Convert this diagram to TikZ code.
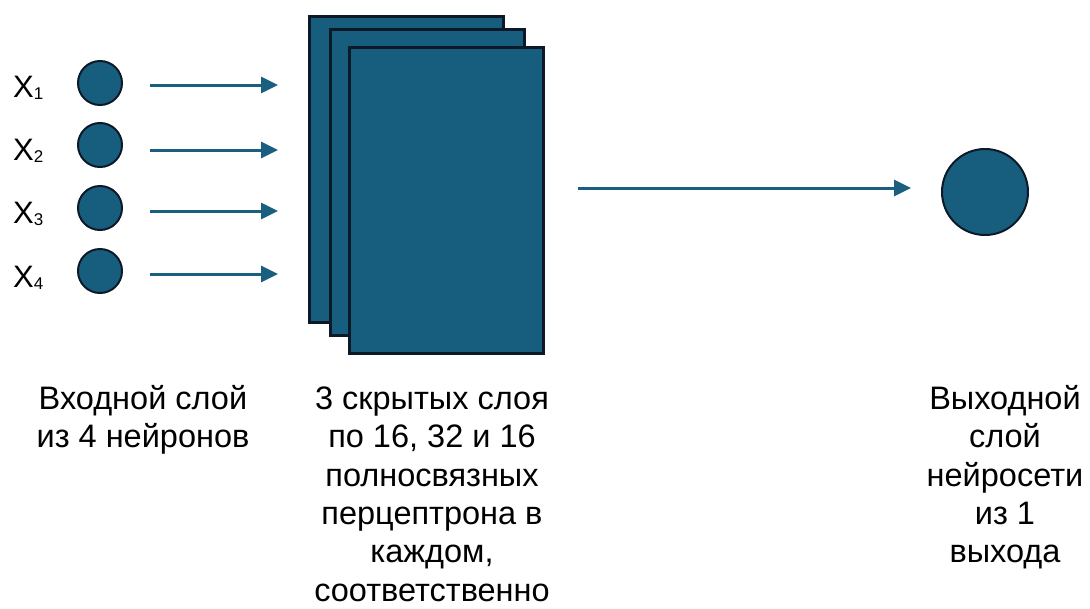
\documentclass[tikz,border=0pt]{standalone}
\usepackage{fontspec}
\setmainfont{Liberation Sans}
\usetikzlibrary{arrows.meta}
\definecolor{nblue}{HTML}{175E7E}
\definecolor{ablue}{HTML}{1A5F80}
\definecolor{nedge}{HTML}{0C1A28}
\tikzset{
  neuron/.style={circle, fill=nblue, draw=nedge, line width=2pt, inner sep=0pt},
  layerbox/.style={rectangle, fill=nblue, draw=nedge, line width=2.5pt, inner sep=0pt, minimum width=194pt, minimum height=306pt, anchor=north west},
  flow/.style={draw=ablue, line width=3pt, -{Triangle[length=17pt,width=16pt]}},
  xlabel/.style={anchor=base west, inner sep=0pt, font={\fontsize{31}{31}\selectfont}},
  caption/.style={anchor=north, inner sep=0pt, align=center, font={\fontsize{32.5}{38.4}\selectfont}}
}
\newcommand{\xsub}[1]{X\raisebox{-2pt}{\fontsize{17}{17}\selectfont #1}}
\newcommand{\capstrut}{\rule{0pt}{25pt}}
\begin{document}
\begin{tikzpicture}[x=1pt,y=-1pt]
\useasboundingbox (0,0) rectangle (1090,608);
% input neurons
\node[neuron, minimum size=44pt] (i1) at (100,83) {};
\node[neuron, minimum size=44pt] (i2) at (100,145) {};
\node[neuron, minimum size=44pt] (i3) at (100,208) {};
\node[neuron, minimum size=44pt] (i4) at (100,271) {};
\node[xlabel] (x1) at (13,97) {\xsub{1}};
\node[xlabel] (x2) at (13,160) {\xsub{2}};
\node[xlabel] (x3) at (13,223) {\xsub{3}};
\node[xlabel] (x4) at (13,287) {\xsub{4}};
% hidden layers
\node[layerbox] (h1) at (308,15) {};
\node[layerbox] (h2) at (329,28) {};
\node[layerbox] (h3) at (348,46) {};
% arrows into hidden layers
\coordinate (s1) at (150,85); \coordinate (e1) at (278,85);
\coordinate (s2) at (150,150); \coordinate (e2) at (278,150);
\coordinate (s3) at (150,211); \coordinate (e3) at (278,211);
\coordinate (s4) at (150,274); \coordinate (e4) at (278,274);
\draw[flow] (s1) -- (e1);
\draw[flow] (s2) -- (e2);
\draw[flow] (s3) -- (e3);
\draw[flow] (s4) -- (e4);
% output neuron
\node[neuron, minimum size=86pt] (o) at (985,192) {};
\coordinate (s5) at (578,188); \coordinate (e5) at (911,188);
\draw[flow] (s5) -- (e5);
% captions
\node[caption] (c1) at (143,384) {\capstrut Входной слой\\из 4 нейронов};
\node[caption] (c2) at (432,384) {\capstrut 3 скрытых слоя\\по 16, 32 и 16\\полносвязных\\перцептрона в\\каждом,\\соответственно};
\node[caption] (c3) at (1005,384) {\capstrut Выходной\\слой\\нейросети\\из 1\\выхода};
\end{tikzpicture}
\end{document}
